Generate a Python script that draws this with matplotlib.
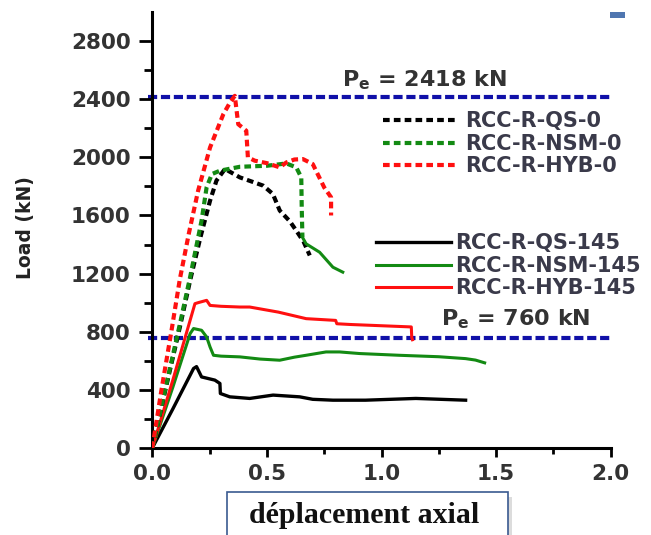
import matplotlib
matplotlib.use("Agg")
import matplotlib.pyplot as plt
import matplotlib.patches as mpatches
from matplotlib.ticker import MultipleLocator, FixedLocator
import numpy as np

# ---- données (déplacement en mm, charge en kN) ----
qs0_x = [0, 0.06, 0.12, 0.165, 0.21, 0.252, 0.28, 0.317, 0.382, 0.44, 0.484, 0.526, 0.556, 0.60, 0.628, 0.66, 0.687]
qs0_y = [0, 420, 830, 1153, 1450, 1702, 1840, 1920, 1862, 1830, 1805, 1748, 1634, 1560, 1496, 1420, 1325]

nsm0_x = [0, 0.06, 0.12, 0.165, 0.215, 0.237, 0.26, 0.295, 0.382, 0.5, 0.585, 0.628, 0.65, 0.652, 0.655]
nsm0_y = [0, 430, 850, 1176, 1565, 1794, 1885, 1908, 1935, 1942, 1958, 1931, 1862, 1650, 1450]
nsm0_tail_x = [0.655, 0.671, 0.73, 0.788, 0.831]
nsm0_tail_y = [1450, 1405, 1347, 1244, 1210]

hyb0_x = [0, 0.04, 0.084, 0.12, 0.16, 0.2, 0.252, 0.31, 0.34, 0.36, 0.375, 0.41, 0.417,
          0.447, 0.50, 0.556, 0.585, 0.62, 0.657, 0.70, 0.75, 0.78, 0.78]
hyb0_y = [0, 400, 810, 1160, 1480, 1771, 2068, 2297, 2380, 2423, 2228, 2183, 2000,
          1977, 1960, 1931, 1965, 1985, 1988, 1954, 1793, 1725, 1600]

qs145_x = [0, 0.09, 0.18, 0.193, 0.215, 0.273, 0.295, 0.297, 0.338, 0.425, 0.527, 0.643, 0.70, 0.788, 0.93, 1.15, 1.367]
qs145_y = [0, 270, 547, 560, 489, 467, 444, 375, 352, 341, 364, 352, 335, 329, 329, 341, 329]

nsm145_x = [0, 0.09, 0.165, 0.18, 0.215, 0.237, 0.252, 0.267, 0.30, 0.382, 0.47, 0.556, 0.62,
            0.671, 0.758, 0.817, 0.904, 1.077, 1.25, 1.367, 1.41, 1.45]
nsm145_y = [0, 420, 787, 822, 810, 764, 695, 638, 632, 627, 612, 604, 625,
            638, 661, 661, 650, 638, 628, 615, 605, 586]

hyb145_x = [0, 0.09, 0.186, 0.20, 0.237, 0.252, 0.30, 0.382, 0.425, 0.55, 0.671, 0.80, 0.805, 0.862, 1.13, 1.132, 1.135]
hyb145_y = [0, 470, 993, 1000, 1016, 981, 975, 970, 970, 935, 890, 878, 855, 850, 833, 760, 745]

pe_values = [2418, 760]
pe_labels = [r"$\mathbf{P_e}$ = 2418 kN", r"$\mathbf{P_e}$ = 760 kN"]
pe_text_pos = [(0.826, 2485), (1.258, 844)]

W, H = 651, 535
fig = plt.figure(figsize=(W / 100, H / 100), dpi=100)
ax = fig.add_axes([152.3 / W, 1 - 448 / H, 458.4 / W, 436 / H])

dash = (0, (1.6, 1.0))
gris = "#333333"

# lignes Pe
ax.hlines(pe_values, -0.02, 2.0, colors="#1010a8", lw=3, linestyles=[(0, (2.2, 0.9))], zorder=1, clip_on=False)
for (tx, ty), lab in zip(pe_text_pos, pe_labels):
    ax.text(tx, ty, lab, fontsize=16, fontweight="bold", color=gris, va="baseline", ha="left")

# courbes 145 (traits pleins)
l4, = ax.plot(qs145_x, qs145_y, color="black", lw=2.4, label="RCC-R-QS-145", zorder=2)
l5, = ax.plot(nsm145_x, nsm145_y, color="#138a13", lw=2.2, label="RCC-R-NSM-145", zorder=2)
l6, = ax.plot(hyb145_x, hyb145_y, color="#ff1010", lw=2.2, label="RCC-R-HYB-145", zorder=2)

# courbes 0 (pointillés)
l1, = ax.plot(qs0_x, qs0_y, color="black", lw=3, ls=dash, label="RCC-R-QS-0", zorder=3)
l2, = ax.plot(nsm0_x, nsm0_y, color="#138a13", lw=3, ls=dash, label="RCC-R-NSM-0", zorder=3)
ax.plot(nsm0_tail_x, nsm0_tail_y, color="#138a13", lw=2.2, zorder=3)
l3, = ax.plot(hyb0_x, hyb0_y, color="#ff1010", lw=3, ls=dash, label="RCC-R-HYB-0", zorder=3)

ax.set_xlim(0, 2.0)
ax.set_ylim(0, 3000)
ax.xaxis.set_major_locator(MultipleLocator(0.5))
ax.xaxis.set_minor_locator(FixedLocator([0.25, 0.75, 1.25, 1.75]))
ax.yaxis.set_major_locator(MultipleLocator(400))
ax.yaxis.set_minor_locator(FixedLocator(np.arange(200, 2800, 400)))
ax.xaxis.set_major_formatter(matplotlib.ticker.FormatStrFormatter("%.1f"))

for s in ["top", "right"]:
    ax.spines[s].set_visible(False)
for s in ["left", "bottom"]:
    ax.spines[s].set_linewidth(2.2)

ax.tick_params(axis="y", which="major", length=9.5, width=2, pad=6, labelsize=15.5, labelcolor=gris)
ax.tick_params(axis="y", which="minor", length=6, width=2)
ax.tick_params(axis="x", which="major", length=6.5, width=2, pad=5, labelsize=15.5, labelcolor=gris)
ax.tick_params(axis="x", which="minor", length=4, width=2)
for t in ax.get_xticklabels() + ax.get_yticklabels():
    t.set_fontweight("bold")

ax.set_ylabel("Load (kN)", fontsize=13.5, fontweight="bold", color="#222222")
ax.yaxis.set_label_coords(-0.255, 0.505)

ax.set_xlabel("déplacement axial", family="Liberation Serif", fontsize=21.5, fontweight="bold", color="#111111")
ax.xaxis.label.set_va("baseline")
ax.xaxis.set_label_coords(0.462, -0.172)

# légendes
leg_kw = dict(frameon=False, fontsize=15, borderpad=0, handlelength=3.6, labelspacing=0.12,
              bbox_transform=fig.transFigure, loc="upper left")
leg1 = ax.legend(handles=[l1, l2, l3], bbox_to_anchor=(373 / W, 1 - 101 / H), handletextpad=0.3, **leg_kw)
ax.add_artist(leg1)
leg2 = ax.legend(handles=[l4, l5, l6], bbox_to_anchor=(366 / W, 1 - 223 / H), handletextpad=0.2, **leg_kw)
for lg in (leg1, leg2):
    for t in lg.get_texts():
        t.set_color("#3a3a4a")
        t.set_fontweight("bold")

# cadre du titre de l'axe x (sous les axes)
fig.patches.append(mpatches.Rectangle((231 / W, -0.05), 281 / W, (43 / H) + 0.05 - 5 / H,
                                      transform=fig.transFigure, facecolor="#bbbbbb", edgecolor="none",
                                      alpha=0.5, zorder=-2))
fig.patches.append(mpatches.Rectangle((227 / W, -0.05), 281 / W, (43 / H) + 0.05,
                                      transform=fig.transFigure, facecolor="white", edgecolor="#3a5a90",
                                      lw=1.2, zorder=-1))
# petit rectangle bleu en haut à droite
fig.patches.append(mpatches.Rectangle((610 / W, 1 - 18 / H), 15 / W, 6 / H,
                                      transform=fig.transFigure, facecolor="#4f76b0", edgecolor="none"))

fig.savefig("out.png", dpi=100)
